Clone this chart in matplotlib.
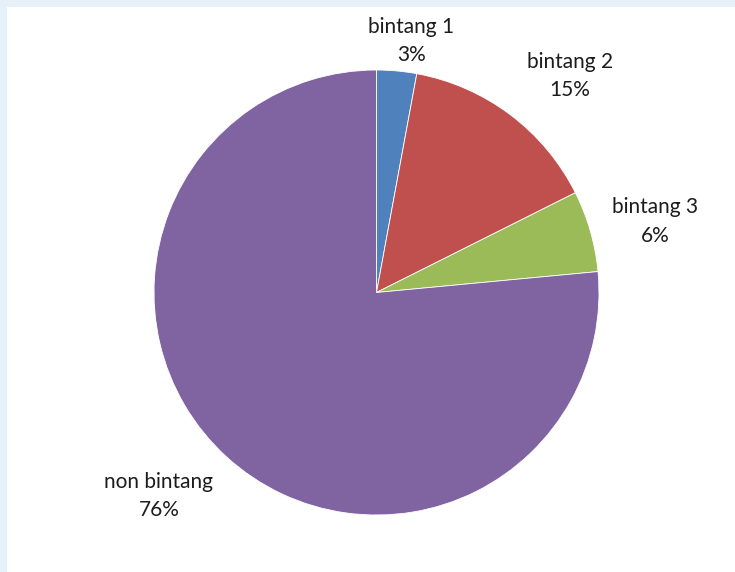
import matplotlib.pyplot as plt

categories = ['bintang 1', 'bintang 2', 'bintang 3', 'non bintang']
shares = [2.9, 14.7, 5.9, 76.5]
colors = ['#4F81BD', '#C0504D', '#9BBB59', '#8064A2']

# label centres, in pie-radius units (Excel "best fit" placement)
label_pos = [(0.157, 1.130), (0.870, 0.973), (1.251, 0.318), (-0.978, -0.915)]

plt.rcParams['font.family'] = ['Lato', 'DejaVu Sans']

W, H = 735, 572
fig = plt.figure(figsize=(W / 100, H / 100), dpi=100, facecolor='#E5F0F8')

# white chart area inside the light blue frame
bg = fig.add_axes([7 / W, 0, 1 - 7 / W, 1 - 7 / H])
bg.set_facecolor('white')
bg.set_xticks([])
bg.set_yticks([])
for s in bg.spines.values():
    s.set_visible(False)

cx, cy, r = 376.5, 292.5, 222.5
ax = fig.add_axes([(cx - r) / W, (H - cy - r) / H, 2 * r / W, 2 * r / H])
ax.set_facecolor('none')

labels = [f'{c}\n{round(v)}%' for c, v in zip(categories, shares)]
wedges, texts = ax.pie(shares, colors=colors, startangle=90, counterclock=False,
                       labels=labels,
                       wedgeprops=dict(edgecolor='white', linewidth=0.6),
                       textprops=dict(fontsize=15, color='#1c1c1c', ha='center',
                                      va='center', linespacing=1.55))
for t, pos in zip(texts, label_pos):
    t.set_position(pos)
    t.set_horizontalalignment('center')
    t.set_verticalalignment('center')

ax.set_xlim(-1, 1)
ax.set_ylim(-1, 1)
ax.axis('off')

fig.savefig('out.png', dpi=100, facecolor=fig.get_facecolor())
